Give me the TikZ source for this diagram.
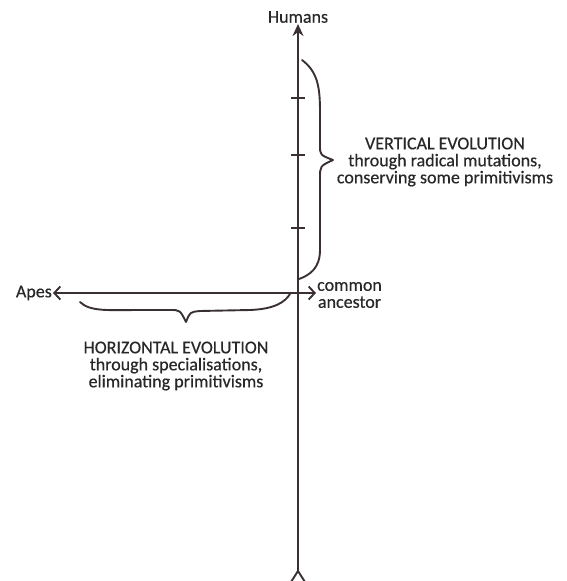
\documentclass[tikz,border=0pt]{standalone}
\usepackage{fontspec}
\setmainfont{Carlito}[FakeBold=0.5]
\usetikzlibrary{positioning,arrows.meta}

\definecolor{pencil}{RGB}{58,48,50}
\definecolor{inktext}{RGB}{40,40,40}

\begin{document}
\begin{tikzpicture}[x=1pt, y=-1pt, >=Latex,
    axis/.style={draw=pencil, line width=1.9pt},
    brace/.style={draw=pencil, line width=1.9pt, line cap=round, line join=round},
    lbl/.style={text=inktext, font=\fontsize{18}{17}\selectfont, inner sep=1pt},
    note/.style={lbl, align=center}]
  \useasboundingbox (0,0) rectangle (567,581);

  \coordinate (origin) at (298,293);
  \coordinate (bottom) at (298,571);
  \node[lbl] (humans) at (298,17) {Humans};
  \node[lbl, anchor=east] (apes) at (53,293) {Apes};
  \node[note, anchor=west] (ancestor) at (316,295) {common\\ancestor};
  \node[note] (vert) at (445,162) {VERTICAL EVOLUTION\\through radical mutations,\\conserving some primitivisms};
  \node[note] (horiz) at (176,366) {HORIZONTAL EVOLUTION\\through specialisations,\\eliminating primitivisms};

  % axes
  \draw[axis, -{Stealth[length=12pt,width=11pt]}] (bottom) -- (humans.south);
  \draw[axis, {Straight Barb[length=6pt,width=13pt]}-{Straight Barb[length=6pt,width=13pt]}]
    (apes.east) -- (ancestor.west |- origin);
  \draw[axis] (bottom) -- ++(-7,11) (bottom) -- ++(7,11);
  \foreach \y in {98,155,228}
    \draw[axis] (291,\y) -- (305,\y);

  % braces
  \draw[brace] (302,60) .. controls (318,72) and (320,88) .. (320,112) -- (320,145)
    .. controls (320,155) .. (333,160) .. controls (320,166) .. (320,178) -- (320,250)
    .. controls (320,268) and (310,275) .. (299,279);
  \draw[brace] (80,302) .. controls (90,312) and (110,310) .. (140,310) -- (170,310)
    .. controls (180,310) .. (186,322) .. controls (190,312) .. (200,311) -- (250,310)
    .. controls (275,309) and (285,302) .. (290,294);
\end{tikzpicture}
\end{document}
